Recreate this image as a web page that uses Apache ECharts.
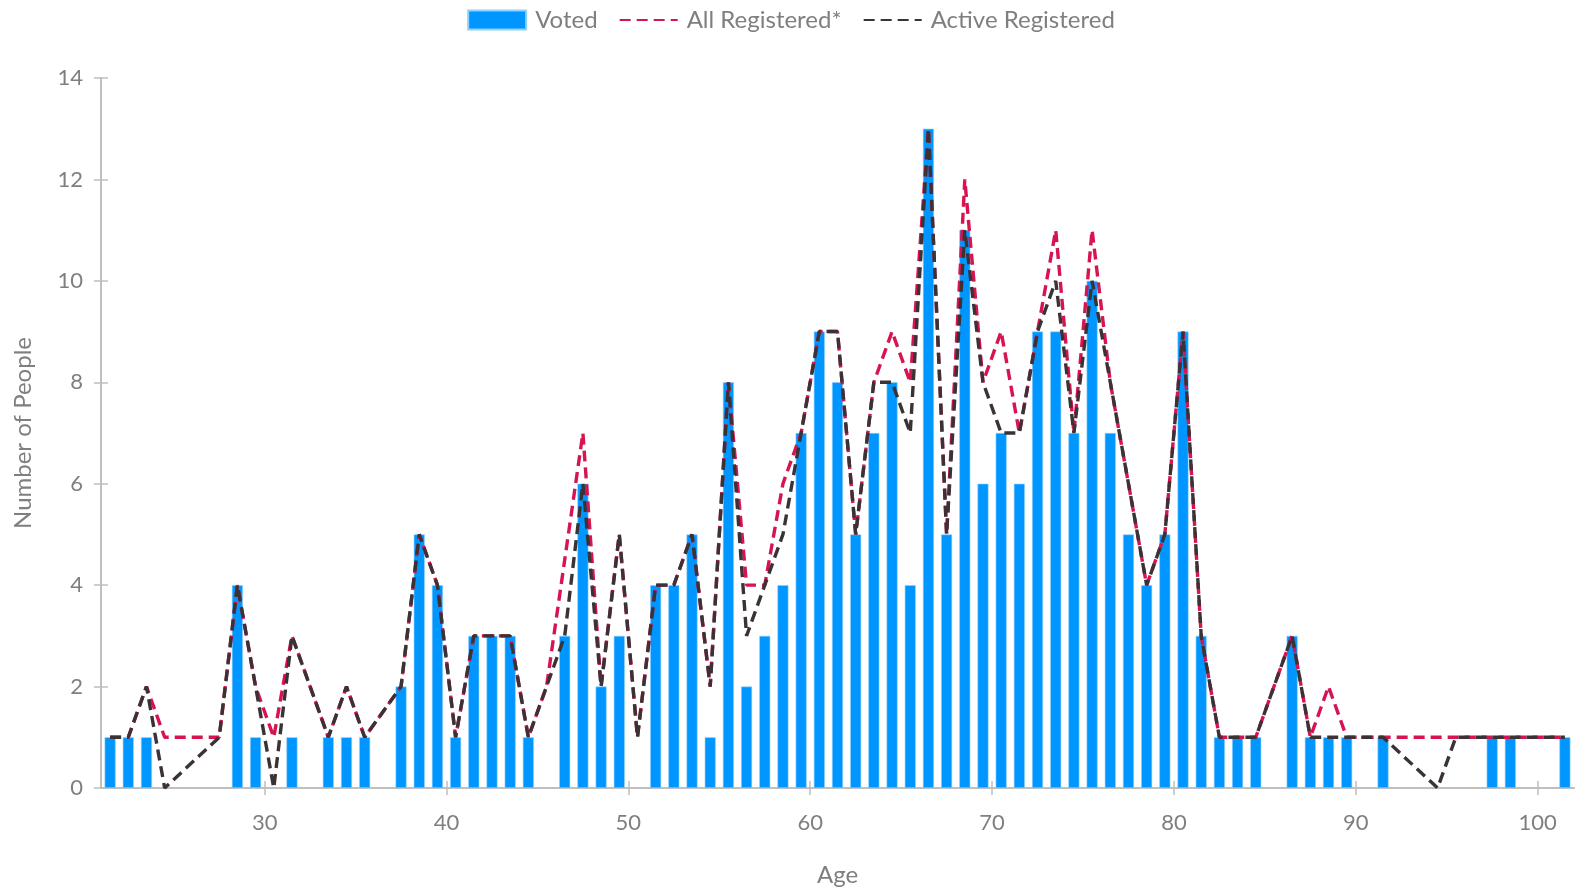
<!DOCTYPE html>
<html>
<head>
<meta charset="utf-8">
<title>Voters by Age</title>
<script src="https://cdn.jsdelivr.net/npm/echarts@6/dist/echarts.min.js"></script>
<style>
  html, body { margin: 0; padding: 0; background: #fff; }
  #chart { width: 1582px; height: 888px; }
</style>
</head>
<body>
<div id="chart"></div>
<script>
// ages 21..101, one value per age (null = no point)
var ages = [21, 22, 23, 24, 25, 26, 27, 28, 29, 30,
  31, 32, 33, 34, 35, 36, 37, 38, 39, 40,
  41, 42, 43, 44, 45, 46, 47, 48, 49, 50,
  51, 52, 53, 54, 55, 56, 57, 58, 59, 60,
  61, 62, 63, 64, 65, 66, 67, 68, 69, 70,
  71, 72, 73, 74, 75, 76, 77, 78, 79, 80,
  81, 82, 83, 84, 85, 86, 87, 88, 89, 90,
  91, 92, 93, 94, 95, 96, 97, 98, 99, 100, 101]

var voted = [1, 1, 1, null, null, null, null, 4, 1, null,
  1, null, 1, 1, 1, null, 2, 5, 4, 1,
  3, 3, 3, 1, null, 3, 6, 2, 3, null,
  4, 4, 5, 1, 8, 2, 3, 4, 7, 9,
  8, 5, 7, 8, 4, 13, 5, 11, 6, 7,
  6, 9, 9, 7, 10, 7, 5, 4, 5, 9,
  3, 1, 1, 1, null, 3, 1, 1, 1, null,
  1, null, null, null, null, null, 1, 1, null, null, 1]

var allRegistered = [1, 1, 2, 1, 1, 1, 1, 4, 2, 1,
  3, 2, 1, 2, 1, null, 2, 5, 4, 1,
  3, 3, 3, 1, 2, null, 7, 2, 5, 1,
  4, 4, 5, 2, 8, 4, 4, 6, 7, 9,
  9, 5, 8, 9, 8, 13, 5, 12, 8, 9,
  7, 9, 11, 7, 11, 8, 6, 4, 5, 9,
  3, 1, 1, 1, 2, 3, 1, 2, 1, 1,
  1, 1, 1, 1, 1, 1, 1, 1, 1, 1, 1]

var activeRegistered = [1, 1, 2, 0, null, null, 1, 4, 2, 0,
  3, 2, 1, 2, 1, null, 2, 5, 4, 1,
  3, 3, 3, 1, 2, 3, 6, 2, 5, 1,
  4, 4, 5, 2, 8, 3, 4, 5, 7, 9,
  9, 5, 8, 8, 7, 13, 5, 11, 8, 7,
  7, 9, 10, 7, 10, 8, 6, 4, 5, 9,
  3, 1, 1, 1, 2, 3, 1, 1, 1, 1,
  1, null, null, 0, 1, 1, 1, 1, 1, 1, 1]

var ageTicks = [30, 40, 50, 60, 70, 80, 90, 100]

var textColor = '#7f7f7f'
var axisColor = '#bfbfbf'
var font = 'Lato'

// each age bin is drawn at its middle (age + 0.5)
function toPoints(values) {
  var pts = []
  for (var i = 0; i < ages.length; i++) {
    if (values[i] !== null) {
      pts.push([ages[i] + 0.5, values[i]])
    }
  }
  return pts
}

var chart = echarts.init(document.getElementById('chart'))
chart.setOption({
  backgroundColor: '#fff',
  animation: false,
  textStyle: { fontFamily: font },
  legend: {
    top: 3,
    left: 'center',
    itemGap: 21,
    itemWidth: 58,
    itemHeight: 19,
    textStyle: { color: textColor, fontSize: 24, fontFamily: font, padding: [0, 0, 0, 4] },
    data: [
      { name: 'Voted', icon: 'rect' },
      { name: 'All Registered*', itemStyle: { opacity: 0 } },
      { name: 'Active Registered', itemStyle: { opacity: 0 } }
    ]
  },
  grid: {
    left: 101,
    right: 8,
    top: 78,
    bottom: 100,
    containLabel: false,
    outerBoundsMode: 'none'
  },
  xAxis: [{
    type: 'value',
    min: 21,
    max: 102,
    name: 'Age',
    nameLocation: 'middle',
    nameGap: 75,
    nameTextStyle: { color: textColor, fontSize: 24, fontFamily: font },
    axisLine: { show: true, lineStyle: { color: axisColor, width: 2 } },
    axisTick: { show: true, length: 7, customValues: ageTicks, lineStyle: { color: axisColor, width: 1.5 } },
    axisLabel: { color: textColor, fontSize: 22, margin: 24, customValues: ageTicks },
    splitLine: { show: false }
  }, {
    type: 'value',
    min: 21,
    max: 102,
    position: 'bottom',
    axisLine: { show: false },
    axisTick: { show: true, inside: true, length: 7, customValues: ageTicks, lineStyle: { color: axisColor, width: 1.5 } },
    axisLabel: { show: false },
    splitLine: { show: false }
  }],
  yAxis: [{
    type: 'value',
    min: 0,
    max: 14,
    interval: 2,
    name: 'Number of People',
    nameLocation: 'middle',
    nameGap: 66,
    nameTextStyle: { color: textColor, fontSize: 24, fontFamily: font },
    axisLine: { show: true, lineStyle: { color: axisColor, width: 2 } },
    axisTick: { show: true, length: 7, lineStyle: { color: axisColor, width: 1.5 } },
    axisLabel: { color: textColor, fontSize: 22, margin: 18 },
    splitLine: { show: false }
  }, {
    type: 'value',
    min: 0,
    max: 14,
    interval: 2,
    position: 'left',
    axisLine: { show: false },
    axisTick: { show: true, inside: true, length: 7, lineStyle: { color: axisColor, width: 1.5 } },
    axisLabel: { show: false },
    splitLine: { show: false }
  }],
  series: [{
    name: 'Voted',
    type: 'bar',
    barWidth: 11,
    itemStyle: { color: '#0096ff', borderColor: '#8fd0ff', borderWidth: 0.6 },
    data: toPoints(voted)
  }, {
    name: 'All Registered*',
    type: 'line',
    symbol: 'none',
    showSymbol: false,
    lineStyle: { color: '#d7144f', width: 3.4, type: [11, 6] },
    itemStyle: { color: '#d7144f' },
    data: toPoints(allRegistered)
  }, {
    name: 'Active Registered',
    type: 'line',
    symbol: 'none',
    showSymbol: false,
    lineStyle: { color: '#3a3235', width: 3.4, type: [11, 6] },
    itemStyle: { color: '#3a3235' },
    data: toPoints(activeRegistered)
  }]
})
</script>
</body>
</html>
